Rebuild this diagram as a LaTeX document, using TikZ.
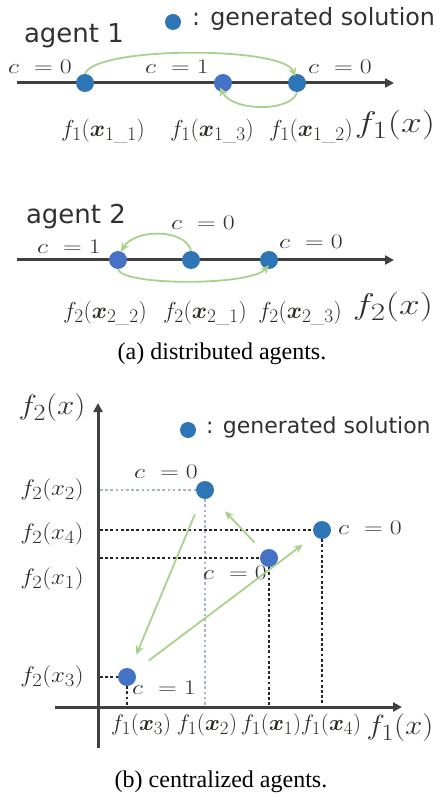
\documentclass[tikz,border=0pt]{standalone}
\usepackage{amsmath,bm}
\usepackage{graphicx}
\usepackage{fontspec}
\newfontfamily\sansf{DejaVu Sans}
\newfontfamily\capf{Liberation Serif}
\usetikzlibrary{arrows.meta}
\newcommand{\mycl}[1]{\scalebox{1.25}[1]{$#1$}}
\newcommand{\myfl}[1]{\scalebox{0.93}[0.93]{$#1$}}
\newcommand{\myxl}[1]{\scalebox{0.91}[0.9]{$#1$}}
\newcommand{\myyl}[1]{\scalebox{1.0}[0.9]{$#1$}}
\newcommand{\mybigA}[1]{\scalebox{1.5}[1.2]{$#1$}}
\newcommand{\mybigB}[1]{\scalebox{1.25}[1.12]{$#1$}}
\definecolor{dotA}{HTML}{2E75B6}
\definecolor{dotB}{HTML}{4472C4}
\definecolor{grn}{HTML}{A9D18E}
\definecolor{axc}{HTML}{404040}
\definecolor{txt}{HTML}{333030}
\definecolor{lbl}{HTML}{2F2A26}
\definecolor{gdot}{HTML}{A8B4C8}
\tikzset{
  solA/.style={circle, fill=dotA, minimum size=18pt, inner sep=0pt},
  solB/.style={circle, fill=dotB, minimum size=18pt, inner sep=0pt},
  legdot/.style={circle, fill=dotA, minimum size=16pt, inner sep=0pt},
  axisline/.style={draw=axc, line width=3pt, -{Triangle[length=9pt,width=9pt]}},
  garrow/.style={draw=grn, line width=1.8pt, -{Stealth[length=9pt,width=8pt]}},
  clab/.style={font=\fontsize{20.74}{22}\selectfont, text=txt, inner sep=0pt},
  flab/.style={font=\fontsize{24.88}{26}\selectfont, text=lbl, inner sep=0pt},
  ylab/.style={font=\fontsize{24.88}{26}\selectfont, text=lbl, inner sep=0pt, anchor=east},
  xlab/.style={font=\fontsize{24.88}{26}\selectfont, text=lbl, inner sep=0pt},
  biglab/.style={font=\fontsize{24.88}{26}\selectfont, text=txt, inner sep=0pt},
  agentlab/.style={font=\sansf\fontsize{26}{26}\selectfont, text=txt, inner sep=0pt},
  leglab/.style={font=\sansf\fontsize{23.8}{24}\selectfont, text=txt, inner sep=0pt, anchor=west},
  caplab/.style={font=\capf\fontsize{24}{24}\selectfont, text=black, inner sep=0pt},
  bdots/.style={draw=black!85, line width=2.8pt, dash pattern=on 2.8pt off 2.4pt},
  gdots/.style={draw=gdot, line width=2.4pt, dash pattern=on 2.6pt off 2.6pt},
}
\begin{document}
\begin{tikzpicture}[x=1pt,y=-1pt]
\useasboundingbox (0,0) rectangle (441,799);

% ---------- agent 1 ----------
\node[agentlab] (ag1) at (74,36) {agent 1};
\node[legdot] (leg1) at (173,22) {};
\node[leglab] (leg1t) at (192,19) {: generated solution};
\coordinate (a1s) at (17,83);
\coordinate (a1e) at (394,83);
\draw[axisline] (a1s) -- (a1e);
\node[solA] (p11) at (85,83) {};
\node[solB] (p13) at (223,83) {};
\node[solA] (p12) at (297,83) {};
\node[clab] (c11) at (40,67) {\mycl{c\ = 0}};
\node[clab] (c13) at (177,67) {\mycl{c\ = 1}};
\node[clab] (c12) at (340,67) {\mycl{c\ = 0}};
\draw[garrow] (p11.north) .. controls (95,46) and (285,46) .. ([xshift=-2pt,yshift=-3pt]p12.north);
\draw[garrow] (p12.south) .. controls (292,112) and (232,112) .. ([xshift=-3pt,yshift=5pt]p13.south);
\node[flab] (l11) at (103,131) {\myfl{f_1(\bm{x}_{1\_1})}};
\node[flab] (l13) at (212,131) {\myfl{f_1(\bm{x}_{1\_3})}};
\node[flab] (l12) at (311,131) {\myfl{f_1(\bm{x}_{1\_2})}};
\node[biglab] (f1a) at (395,125) {\mybigA{f_1(x)}};

% ---------- agent 2 ----------
\node[agentlab] (ag2) at (76,217) {agent 2};
\coordinate (a2s) at (17,260);
\coordinate (a2e) at (394,260);
\draw[axisline] (a2s) -- (a2e);
\node[solB] (q22) at (118,260) {};
\node[solA] (q21) at (191,260) {};
\node[solA] (q23) at (269,260) {};
\node[clab] (c22) at (69,247) {\mycl{c\ = 1}};
\node[clab] (c21) at (203,223) {\mycl{c\ = 0}};
\node[clab] (c23) at (311,242) {\mycl{c\ = 0}};
\draw[garrow] (q21.north) .. controls (185,228) and (134,229) .. ([xshift=3pt,yshift=-1pt]q22.north);
\draw[garrow] (q22.south) .. controls (122,286) and (250,286) .. ([yshift=4pt]q23.south);
\node[flab] (l22) at (105,313) {\myfl{f_2(\bm{x}_{2\_2})}};
\node[flab] (l21) at (205,313) {\myfl{f_2(\bm{x}_{2\_1})}};
\node[flab] (l23) at (300,313) {\myfl{f_2(\bm{x}_{2\_3})}};
\node[biglab] (f2a) at (393,307) {\mybigA{f_2(x)}};

\node[caplab] (capa) at (222,354) {(a) distributed agents.};

% ---------- centralized ----------
\coordinate (ys) at (98,748);
\coordinate (ye) at (98,403);
\coordinate (xs) at (55,707);
\coordinate (xe) at (402,707);
\draw[axisline] (ys) -- (ye);
\draw[axisline] (xs) -- (xe);
\node[biglab] (f2b) at (52,408) {\mybigB{f_2(x)}};
\node[biglab] (f1b) at (400,728) {\mybigB{f_1(x)}};
\node[legdot] (leg2) at (188,430) {};
\node[leglab, font=\sansf\fontsize{22}{22}\selectfont] (leg2t) at (206,427) {: generated solution};

\node[solA] (x2) at (205,490) {};
\node[solA] (x4) at (322,530) {};
\node[solB] (x1) at (269,558) {};
\node[solB] (x3) at (127,677) {};

\coordinate (h2) at (100,490);
\coordinate (v2) at (205,705);
\coordinate (h4) at (100,530);
\coordinate (v4) at (322,705);
\coordinate (h1) at (100,558);
\coordinate (v1) at (269,705);
\coordinate (h3) at (100,677);
\coordinate (v3) at (127,705);
\draw[gdots] (h2) -- (x2.west);
\draw[gdots] (x2.south) -- (v2);
\draw[bdots] (h4) -- (x4.west);
\draw[bdots] (x4.south) -- (v4);
\draw[bdots] (h1) -- (x1.west);
\draw[bdots] (x1.south) -- (v1);
\draw[bdots] (h3) -- (x3.west);
\draw[bdots] (x3.south) -- (v3);

\node[clab] (cx2) at (166,472) {\mycl{c\ = 0}};
\node[clab] (cx4) at (370,528) {\mycl{c\ = 0}};
\node[clab] (cx1) at (235,573) {\mycl{c\ = 0}};
\node[clab] (cx3) at (164,688) {\mycl{c\ = 1}};

\draw[garrow, shorten <=17pt, shorten >=15pt] (x2) -- (x3);
\draw[garrow, shorten <=12pt, shorten >=20pt] (x1) -- (x2);
\draw[garrow, shorten <=18pt, shorten >=15pt] (x3) -- (x4);

\node[ylab] (y2) at (84,490) {\myyl{f_2(x_2)}};
\node[ylab] (y4) at (84,534) {\myyl{f_2(x_4)}};
\node[ylab] (y1) at (84,579) {\myyl{f_2(x_1)}};
\node[ylab] (y3) at (84,677) {\myyl{f_2(x_3)}};

\node[xlab] (xl3) at (141,725) {\myxl{f_1(\bm{x}_3)}};
\node[xlab] (xl2) at (207,725) {\myxl{f_1(\bm{x}_2)}};
\node[xlab] (xl1) at (271,725) {\myxl{f_1(\bm{x}_1)}};
\node[xlab] (xl4) at (331,725) {\myxl{f_1(\bm{x}_4)}};

\node[caplab] (capb) at (221,782) {(b) centralized agents.};
\end{tikzpicture}
\end{document}
